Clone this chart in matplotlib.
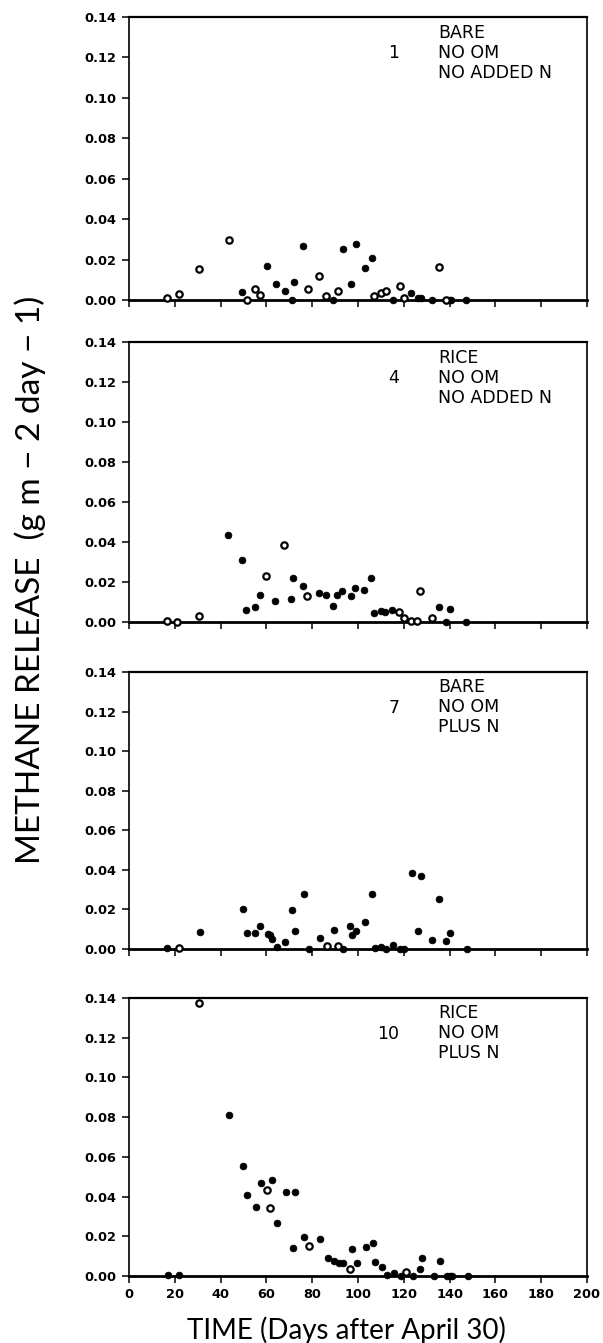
"""
Methane release from flooded plots, four treatments stacked vertically.
Writes out.png
"""

import numpy as np
import matplotlib.pyplot as plt

# ============================================================
# DATA — day after April 30, CH4 release (g m-2 day-1),
# open-symbol flag (1 = open circle, 0 = filled)
# ============================================================
P1_DAY = [16.6, 21.7, 30.7, 43.7, 49.5, 51.4, 55.2, 57.2, 60.1, 64.0,
          68.0, 71.0, 72.1, 76.1, 78.3, 83.1, 86.2, 89.2, 91.3, 93.3,
          97.1, 99.1, 103.2, 106.1, 107.0, 110.0, 112.1, 115.3, 118.2, 120.2,
          123.3, 126.2, 127.4, 132.5, 135.5, 138.6, 139.7, 140.8, 147.3]
P1_CH4 = [0.0010, 0.0030, 0.0154, 0.0297, 0.0038, 0.0000, 0.0056, 0.0026, 0.0167, 0.0078,
          0.0045, 0.0000, 0.0089, 0.0267, 0.0056, 0.0117, 0.0020, 0.0000, 0.0046, 0.0251,
          0.0078, 0.0276, 0.0157, 0.0210, 0.0020, 0.0033, 0.0045, 0.0000, 0.0071, 0.0010,
          0.0036, 0.0010, 0.0010, 0.0000, 0.0165, 0.0000, 0.0000, 0.0000, 0.0000]
P1_OPEN = [1, 1, 1, 1, 0, 1, 1, 1, 0, 0,
           0, 0, 0, 0, 1, 1, 1, 0, 1, 0,
           0, 0, 0, 0, 1, 1, 1, 0, 1, 1,
           0, 0, 0, 0, 1, 1, 0, 0, 0]

P2_DAY = [16.6, 21.1, 30.4, 43.4, 49.2, 51.1, 54.9, 57.1, 59.8, 63.9,
          67.7, 70.9, 71.8, 75.8, 77.9, 82.8, 85.9, 88.9, 90.8, 93.0,
          96.8, 98.8, 102.8, 105.8, 106.8, 109.9, 111.8, 114.8, 117.9, 119.9,
          123.0, 125.9, 126.9, 132.2, 135.2, 138.3, 140.0, 147.2]
P2_CH4 = [0.0003, 0.0000, 0.0032, 0.0435, 0.0310, 0.0062, 0.0075, 0.0133, 0.0230, 0.0107,
          0.0383, 0.0117, 0.0218, 0.0182, 0.0130, 0.0145, 0.0137, 0.0082, 0.0137, 0.0153,
          0.0130, 0.0172, 0.0160, 0.0218, 0.0043, 0.0053, 0.0048, 0.0062, 0.0048, 0.0018,
          0.0007, 0.0007, 0.0157, 0.0020, 0.0075, 0.0000, 0.0067, 0.0000]
P2_OPEN = [1, 1, 1, 0, 0, 0, 0, 0, 1, 0,
           1, 0, 0, 0, 1, 0, 0, 0, 0, 0,
           0, 0, 0, 0, 0, 0, 0, 0, 1, 1,
           1, 1, 1, 1, 0, 0, 0, 0]

P3_DAY = [16.7, 21.7, 30.9, 49.6, 51.5, 55.2, 57.4, 60.6, 61.4, 62.3,
          64.5, 68.3, 71.3, 72.5, 76.3, 78.5, 83.4, 86.5, 89.4, 91.4,
          93.4, 96.4, 97.2, 99.1, 103.2, 106.3, 107.3, 110.2, 112.1, 115.3,
          118.2, 119.9, 123.4, 126.3, 127.4, 132.5, 135.4, 138.4, 140.3, 147.5]
P3_CH4 = [0.0005, 0.0003, 0.0086, 0.0204, 0.0079, 0.0082, 0.0116, 0.0074, 0.0069, 0.0050,
          0.0008, 0.0037, 0.0195, 0.0093, 0.0278, 0.0000, 0.0057, 0.0017, 0.0096, 0.0015,
          0.0002, 0.0118, 0.0069, 0.0091, 0.0136, 0.0276, 0.0005, 0.0008, 0.0000, 0.0020,
          0.0000, 0.0000, 0.0384, 0.0089, 0.0368, 0.0045, 0.0254, 0.0040, 0.0079, 0.0000]
P3_OPEN = [0, 1, 0, 0, 0, 0, 0, 0, 0, 0,
           0, 0, 0, 0, 0, 0, 0, 1, 0, 1,
           0, 0, 0, 0, 0, 0, 0, 0, 0, 0,
           0, 0, 0, 0, 0, 0, 0, 0, 0, 0]

P4_DAY = [17.0, 21.8, 30.7, 43.7, 49.6, 51.7, 55.5, 57.5, 60.4, 61.6,
          62.4, 64.5, 68.4, 71.6, 72.5, 76.6, 78.6, 83.4, 86.8, 89.7,
          91.7, 93.6, 96.7, 97.5, 99.6, 103.3, 106.6, 107.6, 110.6, 112.7,
          115.7, 118.6, 120.8, 123.9, 126.9, 127.9, 133.2, 135.8, 139.0, 140.0,
          141.0, 148.0]
P4_CH4 = [0.0003, 0.0003, 0.1375, 0.0812, 0.0555, 0.0410, 0.0350, 0.0467, 0.0435, 0.0340,
          0.0482, 0.0269, 0.0424, 0.0140, 0.0424, 0.0195, 0.0150, 0.0188, 0.0089, 0.0074,
          0.0064, 0.0067, 0.0037, 0.0134, 0.0064, 0.0146, 0.0168, 0.0069, 0.0044, 0.0007,
          0.0013, 0.0000, 0.0022, 0.0000, 0.0034, 0.0091, 0.0000, 0.0076, 0.0000, 0.0000,
          0.0000, 0.0000]
P4_OPEN = [0, 0, 1, 0, 0, 0, 0, 0, 1, 1,
           0, 0, 0, 0, 0, 0, 1, 0, 0, 0,
           0, 0, 1, 0, 0, 0, 0, 0, 0, 0,
           0, 0, 1, 0, 0, 0, 0, 0, 0, 0,
           0, 0]

PLOT_NUMBERS = ['1', '4', '7', '10']
TREATMENTS = [['BARE', 'NO OM', 'NO ADDED N'],
              ['RICE', 'NO OM', 'NO ADDED N'],
              ['BARE', 'NO OM', 'PLUS N'],
              ['RICE', 'NO OM', 'PLUS N']]

X_TICKS = np.arange(0, 201, 20)
Y_TICKS = np.arange(0, 0.141, 0.02)

# ============================================================
# FIGURE LAYOUT  (pixel rows of each panel: top, bottom)
# ============================================================
W, H = 603, 1343
LEFT, RIGHT = 129, 587
ROWS = [(17, 300), (342, 622), (672, 949), (998, 1276)]

plt.rcParams['font.family'] = ['DejaVu Sans']

fig = plt.figure(figsize=(W / 100, H / 100), dpi=100)


def panel(ax, days, ch4, is_open, number, lines, show_xlabels):
    days = np.asarray(days)
    ch4 = np.asarray(ch4)
    is_open = np.asarray(is_open, dtype=bool)

    ax.plot(days[~is_open], ch4[~is_open], 'o', ms=4.8, mfc='black',
            mec='black', mew=0.6, clip_on=False, zorder=3)
    ax.plot(days[is_open], ch4[is_open], 'o', ms=4.6, mfc='white',
            mec='black', mew=1.6, clip_on=False, zorder=3)

    ax.set_xlim(0, 200)
    ax.set_ylim(0, 0.14)
    ax.set_xticks(X_TICKS)
    ax.set_yticks(Y_TICKS)
    ax.set_yticklabels([f'{v:.2f}' for v in Y_TICKS])
    if show_xlabels:
        ax.set_xticklabels([str(int(v)) for v in X_TICKS])
    else:
        ax.set_xticklabels([])

    ax.tick_params(direction='out', length=5, width=1.1, labelsize=9.3,
                   pad=4, top=False, right=False)
    for lab in ax.get_xticklabels() + ax.get_yticklabels():
        lab.set_fontweight('bold')
    for sp in ax.spines.values():
        sp.set_linewidth(1.2)
    ax.spines['top'].set_linewidth(1.6)
    ax.spines['bottom'].set_linewidth(2.0)

    ax.text(118, 0.122, number, ha='right', va='center', fontsize=12.5)
    for txt, yv in zip(lines, [0.1322, 0.1222, 0.1122]):
        ax.text(135, yv, txt, ha='left', va='center', fontsize=12.5)


datasets = [(P1_DAY, P1_CH4, P1_OPEN),
            (P2_DAY, P2_CH4, P2_OPEN),
            (P3_DAY, P3_CH4, P3_OPEN),
            (P4_DAY, P4_CH4, P4_OPEN)]

for i, ((top, bot), (d, c, o)) in enumerate(zip(ROWS, datasets)):
    ax = fig.add_axes([LEFT / W, 1 - bot / H, (RIGHT - LEFT) / W, (bot - top) / H])
    panel(ax, d, c, o, PLOT_NUMBERS[i], TREATMENTS[i], show_xlabels=(i == 3))

fig.text(346 / W, 1 - 1330 / H, 'TIME (Days after April 30)',
         ha='center', va='center', fontsize=20,
         family=['Lato', 'DejaVu Sans'])
fig.text(30 / W, 1 - 580 / H, 'METHANE RELEASE  (g m \u2212 2 day \u2212 1)',
         ha='center', va='center', rotation=90, fontsize=24,
         family=['Lato', 'DejaVu Sans'])

plt.savefig('out.png', dpi=100)
plt.close()
